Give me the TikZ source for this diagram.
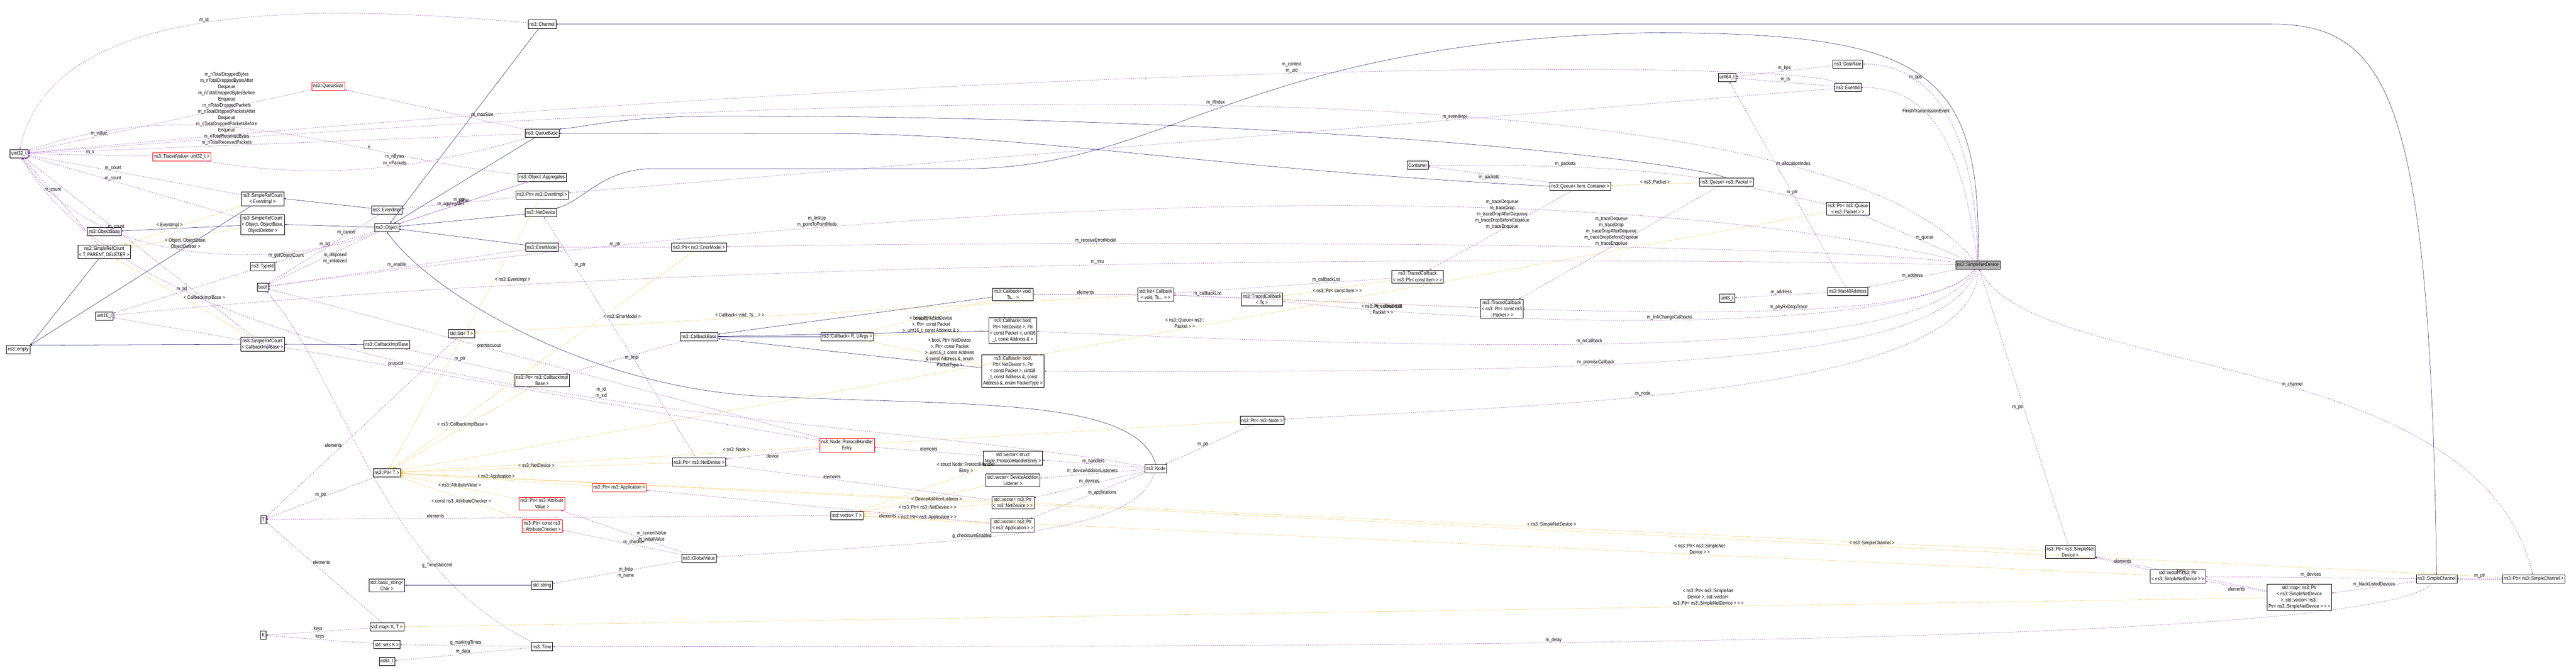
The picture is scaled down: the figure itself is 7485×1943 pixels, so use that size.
\documentclass[tikz,border=0pt]{standalone}
\usepackage{fontspec}
\setmainfont[FakeStretch=0.82]{Liberation Sans}
\definecolor{usecol}{HTML}{9A32CD}
\definecolor{inhcol}{HTML}{191970}
\definecolor{tplcol}{HTML}{FFA500}
\tikzset{
  box/.style={draw, thick, fill=white, align=center, inner sep=4pt, minimum height=24pt, font=\fontsize{15}{18}\selectfont},
  redbox/.style={box, draw=red},
  curbox/.style={box, fill=black!30},
  lbl/.style={font=\fontsize{15}{18}\selectfont, align=center, inner sep=1pt, text=black},
  use/.style={->, dashed, usecol, thick},
  tpl/.style={->, dashed, tplcol, thick},
  inh/.style={->, inhcol, thick}
}
\begin{document}
\begin{tikzpicture}[>=latex, x=1pt, y=-1pt]
\useasboundingbox (0,0) rectangle (7485,1943);
% nodes
\node[box] (ch) at (1575,70) {ns3::Channel};
\node[redbox] (qsz) at (954,250) {ns3::QueueSize};
\node[box] (qb) at (1575,387) {ns3::QueueBase};
\node[box] (u32) at (55,446) {uint32\_t};
\node[redbox] (tv) at (528,455) {ns3::TracedValue< uint32\_t >};
\node[box] (agg) at (1575,515) {ns3::Object::Aggregates};
\node[box] (srcev) at (763,577) {ns3::SimpleRefCount\\< EventImpl >};
\node[box] (ptrev) at (1575,566) {ns3::Ptr< ns3::EventImpl >};
\node[box] (evimpl) at (1124,610) {ns3::EventImpl};
\node[box] (srcobj) at (763,652) {ns3::SimpleRefCount\\< Object, ObjectBase,\\ ObjectDeleter >};
\node[box] (objb) at (303,673) {ns3::ObjectBase};
\node[box] (obj) at (1124,661) {ns3::Object};
\node[box] (nd) at (1572,617) {ns3::NetDevice};
\node[box] (em) at (1575,718) {ns3::ErrorModel};
\node[box] (srct) at (303,731) {ns3::SimpleRefCount\\< T, PARENT, DELETER >};
\node[box] (tid) at (763,774) {ns3::TypeId};
\node[box] (bool) at (763,834) {bool};
\node[box] (u16) at (303,918) {uint16\_t};
\node[box] (listt) at (1341,969) {std::list< T >};
\node[box] (ptrem) at (2031,718) {ns3::Ptr< ns3::ErrorModel >};
\node[box] (cbvoid) at (2943,855) {ns3::Callback< void,\\ Ts... >};
\node[box] (listcb) at (3358,855) {std::list< Callback\\< void, Ts... > >};
\node[box] (tcts) at (3667,869) {ns3::TracedCallback\\< Ts >};
\node[box] (cbb) at (2031,978) {ns3::CallbackBase};
\node[box] (cbr) at (2461,978) {ns3::Callback< R, UArgs >};
\node[box] (cbb4) at (2943,960) {ns3::Callback< bool,\\ Ptr< NetDevice >, Ptr\\< const Packet >, uint16\\\_t, const Address \& >};
\node[box] (cont) at (4119,480) {Container};
\node[box] (dr) at (5369,186) {ns3::DataRate};
\node[box] (u64) at (5018,225) {uint64\_t};
\node[box] (evid) at (5369,254) {ns3::EventId};
\node[box] (qic) at (4592,541) {ns3::Queue< Item, Container >};
\node[box] (qp) at (5016,529) {ns3::Queue< ns3::Packet >};
\node[box] (ptrq) at (5369,606) {ns3::Ptr< ns3::Queue\\< ns3::Packet > >};
\node[box] (tci) at (4119,803) {ns3::TracedCallback\\< ns3::Ptr< const Item > >};
\node[box] (tcp) at (4364,896) {ns3::TracedCallback\\< ns3::Ptr< const ns3\\::Packet > >};
\node[box] (mac) at (5369,846) {ns3::Mac48Address};
\node[box] (u8) at (5018,866) {uint8\_t};
\node[curbox] (snd) at (5747,770) {ns3::SimpleNetDevice};
\node[box] (empty) at (53,1015) {ns3::empty};
\node[box] (srccb) at (763,1000) {ns3::SimpleRefCount\\< CallbackImplBase >};
\node[box] (cbimpl) at (1124,1001) {ns3::CallbackImplBase};
\node[box] (ptrcbi) at (1575,1105) {ns3::Ptr< ns3::CallbackImpl\\Base >};
\node[box] (ptrt) at (1124,1373) {ns3::Ptr< T >};
\node[redbox] (ptrapp) at (1799,1416) {ns3::Ptr< ns3::Application >};
\node[redbox] (ptrav) at (1575,1463) {ns3::Ptr< ns3::Attribute\\Value >};
\node[redbox] (ptrac) at (1575,1528) {ns3::Ptr< const ns3\\::AttributeChecker >};
\node[box] (T) at (765,1509) {T};
\node[box] (bstr) at (1124,1700) {std::basic\_string<\\ Char >};
\node[box] (str) at (1575,1700) {std::string};
\node[box] (mapkt) at (1124,1821) {std::map< K, T >};
\node[box] (K) at (765,1845) {K};
\node[box] (setk) at (1124,1872) {std::set< K >};
\node[box] (time) at (1575,1878) {ns3::Time};
\node[box] (i64) at (1124,1921) {int64\_t};
\node[box] (cbb5) at (2943,1078) {ns3::Callback< bool,\\ Ptr< NetDevice >, Ptr\\< const Packet >, uint16\\\_t, const Address \&, const\\ Address \&, enum PacketType >};
\node[box] (ptrnode) at (3667,1221) {ns3::Ptr< ns3::Node >};
\node[redbox] (phe) at (2461,1293) {ns3::Node::ProtocolHandler\\Entry};
\node[box] (ptrnd) at (2031,1342) {ns3::Ptr< ns3::NetDevice >};
\node[box] (vphe) at (2943,1330) {std::vector< struct\\ Node::ProtocolHandlerEntry >};
\node[box] (node) at (3358,1361) {ns3::Node};
\node[box] (vdal) at (2943,1395) {std::vector< DeviceAddition\\Listener >};
\node[box] (vnd) at (2943,1460) {std::vector< ns3::Ptr\\< ns3::NetDevice > >};
\node[box] (vect) at (2461,1497) {std::vector< T >};
\node[box] (vapp) at (2943,1526) {std::vector< ns3::Ptr\\< ns3::Application > >};
\node[box] (gv) at (2031,1621) {ns3::GlobalValue};
\node[box] (ptrsnd) at (6015,1603) {ns3::Ptr< ns3::SimpleNet\\Device >};
\node[box] (vsnd) at (6328,1674) {std::vector< ns3::Ptr\\< ns3::SimpleNetDevice > >};
\node[box] (mapsnd) at (6681,1735) {std::map< ns3::Ptr\\< ns3::SimpleNetDevice\\ >, std::vector< ns3::\\Ptr< ns3::SimpleNetDevice > > >};
\node[box] (sch) at (7080,1681) {ns3::SimpleChannel};
\node[box] (ptrsch) at (7362,1681) {ns3::Ptr< ns3::SimpleChannel >};
% inheritance
\draw[inh] (sch.north) .. controls (7060,300) and (6950,70) .. (6600,70) -- (ch.east);
\draw[inh] (snd.north) .. controls (5760,200) and (5600,95) .. (4800,95) .. controls (3600,120) and (3400,490) .. (2800,490) -- (1900,490) .. controls (1750,490) and (1700,580) .. (nd.north east);
\draw[inh] (qp.north) .. controls (4900,470) and (3800,337) .. (2100,337) .. controls (1800,337) and (1700,370) .. (qb.north east);
\draw[inh] (qic.west) .. controls (3500,490) and (3000,388) .. (2400,388) -- (qb.east);
\foreach \src in {ch,qb,nd,em} \draw[inh] (\src) -- (obj);
\draw[inh] (node.north) .. controls (3300,1150) and (2800,1180) .. (2200,1150) .. controls (1700,1120) and (1250,850) .. (obj.south);
\draw[inh] (evimpl) -- (srcev.east);
\draw[inh] (obj) -- (srcobj.east);
\draw[inh] (srcobj) -- (objb);
\foreach \src in {srcev,srct,srccb} \draw[inh] (\src) -- (empty.north east);
\draw[inh] (cbimpl) -- (srccb);
\foreach \src in {cbvoid,cbb4,cbr,cbb5} \draw[inh] (\src) -- (cbb);
\draw[inh] (str) -- (bstr);
% template instances
\draw[tpl] (srcev) -- node[lbl, midway, left]{< EventImpl >} (srct);
\draw[tpl] (srcobj) -- node[lbl, midway, below]{< Object, ObjectBase,\\ ObjectDeleter >} (srct);
\draw[tpl] (srccb) -- node[lbl, midway, right]{< CallbackImplBase >} (srct);
\draw[tpl] (qp) -- node[lbl, midway, above]{< ns3::Packet >} (qic);
\draw[tpl] (ptrq) -- node[lbl, pos=.45, above]{< ns3::Queue< ns3::\\Packet > >} (ptrt);
\draw[tpl] (ptrev) -- node[lbl, pos=.3, right]{< ns3::EventImpl >} (ptrt);
\draw[tpl] (ptrem) -- node[lbl, pos=.3, right]{< ns3::ErrorModel >} (ptrt);
\draw[tpl] (ptrcbi) -- node[lbl, midway, above]{< ns3::CallbackImplBase >} (ptrt);
\draw[tpl] (ptrnd) -- node[lbl, midway, above]{< ns3::NetDevice >} (ptrt);
\draw[tpl] (ptrapp) -- node[lbl, midway, above]{< ns3::Application >} (ptrt);
\draw[tpl] (ptrav) -- node[lbl, midway, above]{< ns3::AttributeValue >} (ptrt);
\draw[tpl] (ptrac) -- node[lbl, midway, below]{< const ns3::AttributeChecker >} (ptrt);
\draw[tpl] (ptrnode) -- node[lbl, pos=.6, above]{< ns3::Node >} (ptrt);
\draw[tpl] (ptrsnd) -- node[lbl, pos=.3, above]{< ns3::SimpleNetDevice >} (ptrt);
\draw[tpl] (ptrsch) -- node[lbl, pos=.3, above]{< ns3::SimpleChannel >} (ptrt);
\draw[tpl] (listcb) -- node[lbl, pos=.6, above]{< Callback< void, Ts... > >} (listt);
\draw[tpl] (cbvoid) -- node[lbl, midway, below]{< void, Ts... >} (cbr);
\draw[tpl] (cbb4) -- node[lbl, midway, above]{< bool, Ptr< NetDevice\\ >, Ptr< const Packet\\ >, uint16\_t, const Address \& >} (cbr);
\draw[tpl] (cbb5) -- node[lbl, midway, right]{< bool, Ptr< NetDevice\\ >, Ptr< const Packet\\ >, uint16\_t, const Address\\ \& const Address \&, enum\\ PacketType >} (cbr);
\draw[tpl] (tci) -- node[lbl, midway, below]{< ns3::Ptr< const Item > >} (tcts);
\draw[tpl] (tcp) -- node[lbl, midway, below]{< ns3::Ptr< const ns3\\::Packet > >} (tcts);
\draw[tpl] (vphe) -- node[lbl, pos=.2, above]{< struct Node::ProtocolHandler\\Entry >} (vect);
\draw[tpl] (vdal) -- node[lbl, pos=.4, below]{< DeviceAdditionListener >} (vect);
\draw[tpl] (vnd) -- node[lbl, midway, above]{< ns3::Ptr< ns3::NetDevice > >} (vect);
\draw[tpl] (vapp) -- node[lbl, midway, above]{< ns3::Ptr< ns3::Application > >} (vect);
\draw[tpl] (vsnd) -- node[lbl, pos=.35, above]{< ns3::Ptr< ns3::SimpleNet\\Device > >} (vect);
\draw[tpl] (mapsnd) -- node[lbl, pos=.3, above]{< ns3::Ptr< ns3::SimpleNet\\Device >, std::vector<\\ ns3::Ptr< ns3::SimpleNetDevice > > >} (mapkt);
% usage
\draw[use] (ch) .. controls (900,10) and (150,0) .. node[lbl, above]{m\_id} (u32);
\draw[use] (evid) .. controls (5200,170) and (3000,170) .. node[lbl, above, pos=.5]{m\_context\\m\_uid} (u32);
\draw[use] (snd) .. controls (5300,220) and (3000,220) .. node[lbl, above, pos=.55]{m\_ifIndex} (u32);
\draw[use] (qsz) -- node[lbl, pos=.75, above]{m\_value} (u32);
\draw[use] (qb) -- node[lbl, pos=.6, above]{m\_nTotalDroppedBytes\\m\_nTotalDroppedBytesAfter\\Dequeue\\m\_nTotalDroppedBytesBefore\\Enqueue\\m\_nTotalDroppedPackets\\m\_nTotalDroppedPacketsAfter\\Dequeue\\m\_nTotalDroppedPacketsBefore\\Enqueue\\m\_nTotalReceivedBytes\\m\_nTotalReceivedPackets} (u32);
\draw[use] (qb) -- node[lbl, pos=.3, above right]{m\_maxSize} (qsz);
\draw[use] (qb) .. controls (1200,500) and (900,520) .. node[lbl, above, pos=.4]{m\_nBytes\\m\_nPackets} (tv);
\draw[use] (tv) -- node[lbl, above]{m\_v} (u32);
\draw[use] (agg) .. controls (1000,450) and (600,260) .. node[lbl, pos=.3, above]{n} (u32);
\foreach \src in {srcev,srcobj,srct,srccb}
  \draw[use] (\src) -- node[lbl, pos=.6, above]{m\_count} (u32);
\draw[use] (obj) .. controls (900,760) and (300,820) .. node[lbl, pos=.3, below]{m\_getObjectCount} (u32);
\draw[use] (obj) -- node[lbl, pos=.4, above]{m\_aggregates} (agg);
\draw[use] (agg) -- node[lbl, midway, above]{buffer} (obj);
\draw[use] (ptrev) -- node[lbl, midway, above]{m\_ptr} (evimpl);
\draw[use] (evimpl) -- node[lbl, pos=.3, above]{m\_cancel} (bool);
\draw[use] (obj) -- node[lbl, midway, above]{m\_tid} (tid);
\draw[use] (obj) -- node[lbl, midway, right]{m\_disposed\\m\_initialized} (bool);
\draw[use] (em) -- node[lbl, midway, above]{m\_enable} (bool);
\draw[use] (tid) -- node[lbl, midway, above]{m\_tid} (u16);
\draw[use] (ptrem) -- node[lbl, midway, above]{m\_ptr} (em);
\draw[use] (snd) .. controls (5200,700) and (3000,700) .. node[lbl, pos=.7, above]{m\_receiveErrorModel} (ptrem);
\draw[use] (snd) .. controls (5700,400) and (5600,254) .. node[lbl, pos=.6, above]{FinishTransmissionEvent} (evid);
\draw[use] (snd) .. controls (5740,350) and (5600,186) .. node[lbl, pos=.7, above]{m\_bps} (dr);
\draw[use] (dr) -- node[lbl, midway, above]{m\_bps} (u64);
\draw[use] (evid) -- node[lbl, midway, above]{m\_ts} (u64);
\draw[use] (evid) -- node[lbl, pos=.3, above]{m\_eventImpl} (ptrev);
\draw[use] (snd) .. controls (4500,480) and (2500,600) .. node[lbl, pos=.7, above]{m\_linkUp\\m\_pointToPointMode} (bool);
\draw[use] (snd) .. controls (4500,745) and (2000,745) .. node[lbl, pos=.5, above]{m\_mtu} (u16);
\draw[use] (ptrq) -- node[lbl, midway, above right]{m\_ptr} (qp);
\draw[use] (snd) -- node[lbl, midway, right]{m\_queue} (ptrq);
\draw[use] (qp) .. controls (4700,480) and (4400,480) .. node[lbl, midway, above]{m\_packets} (cont);
\draw[use] (qic) -- node[lbl, midway, below]{m\_packets} (cont);
\draw[use] (qic) -- node[lbl, pos=.3, left]{m\_traceDequeue\\m\_traceDrop\\m\_traceDropAfterDequeue\\m\_traceDropBeforeEnqueue\\m\_traceEnqueue} (tci);
\draw[use] (qp) -- node[lbl, pos=.4, left]{m\_traceDequeue\\m\_traceDrop\\m\_traceDropAfterDequeue\\m\_traceDropBeforeEnqueue\\m\_traceEnqueue} (tcp);
\draw[use] (mac) -- node[lbl, pos=.6, right]{m\_allocationIndex} (u64);
\draw[use] (mac) -- node[lbl, midway, above]{m\_address} (u8);
\draw[use] (snd) -- node[lbl, midway, above]{m\_address} (mac);
\draw[use] (snd) .. controls (5650,900) and (5200,920) .. node[lbl, pos=.6, above]{m\_phyRxDropTrace} (tcp);
\draw[use] (snd) .. controls (5600,960) and (4500,960) .. node[lbl, pos=.55, above]{m\_linkChangeCallbacks} (tcts);
\draw[use] (tcts) -- node[lbl, midway, above]{m\_callbackList} (listcb);
\draw[use] (tci) -- node[lbl, pos=.3, above]{m\_callbackList} (listcb);
\draw[use] (tcp) -- node[lbl, pos=.3, below]{m\_callbackList} (listcb);
\draw[use] (listcb) -- node[lbl, midway, above]{elements} (cbvoid);
\draw[use] (snd) .. controls (5600,1030) and (4600,1030) .. node[lbl, pos=.6, above]{m\_rxCallback} (cbb4);
\draw[use] (snd) .. controls (5650,1080) and (4600,1080) .. node[lbl, pos=.6, above]{m\_promiscCallback} (cbb5);
\draw[use] (cbb) -- node[lbl, midway, right]{m\_impl} (ptrcbi);
\draw[use] (ptrcbi) -- node[lbl, midway, above]{m\_ptr} (cbimpl);
\draw[use] (snd) .. controls (5750,1150) and (4500,1175) .. node[lbl, pos=.6, above]{m\_node} (ptrnode);
\draw[use] (ptrnode) -- node[lbl, midway, left]{m\_ptr} (node);
\draw[use] (node) .. controls (2500,1200) and (500,1200) .. node[lbl, pos=.45, above]{m\_id\\m\_sid} (u32);
\draw[use] (node) -- node[lbl, midway, above]{m\_handlers} (vphe);
\draw[use] (node) -- node[lbl, midway, above]{m\_deviceAdditionListeners} (vdal);
\draw[use] (node) -- node[lbl, midway, above]{m\_devices} (vnd);
\draw[use] (node) -- node[lbl, midway, above right]{m\_applications} (vapp);
\draw[use] (node) .. controls (3300,1560) and (2800,1570) .. node[lbl, pos=.6, above]{g\_checksumEnabled} (gv);
\draw[use] (vphe) -- node[lbl, midway, above]{elements} (phe);
\draw[use] (vnd) -- node[lbl, pos=.6, above]{elements} (ptrnd);
\draw[use] (vapp) -- node[lbl, pos=.3, below]{elements} (ptrapp);
\draw[use] (phe) -- node[lbl, midway, below]{device} (ptrnd);
\draw[use] (phe) -- node[lbl, pos=.6, above]{protocol} (u16);
\draw[use] (phe) -- node[lbl, pos=.6, above]{promiscuous} (bool);
\draw[use] (ptrnd) -- node[lbl, pos=.8, right]{m\_ptr} (nd);
\draw[use] (vect) -- node[lbl, pos=.7, above]{elements} (T);
\draw[use] (listt) -- node[lbl, pos=.6, left]{elements} (T);
\draw[use] (ptrt) -- node[lbl, midway, above]{m\_ptr} (T);
\draw[use] (mapkt) -- node[lbl, pos=.6, right]{elements} (T);
\draw[use] (mapkt) -- node[lbl, midway, above]{keys} (K);
\draw[use] (setk) -- node[lbl, midway, above]{keys} (K);
\draw[use] (time) -- node[lbl, midway, above]{g\_markingTimes} (setk);
\draw[use] (time) -- node[lbl, midway, above]{m\_data} (i64);
\draw[use] (time) .. controls (1100,1650) and (1000,1100) .. node[lbl, pos=.25, above]{g\_TimeStaticInit} (bool);
\draw[use] (gv) -- node[lbl, midway, right]{m\_help\\m\_name} (str);
\draw[use] (gv) -- node[lbl, pos=.4, right]{m\_currentValue\\m\_initialValue} (ptrav);
\draw[use] (gv) -- node[lbl, pos=.4, above]{m\_checker} (ptrac);
\draw[use] (sch) .. controls (6900,1880) and (4000,1878) .. node[lbl, pos=.6, above]{m\_delay} (time);
\draw[use] (snd) .. controls (5900,1100) and (7200,1000) .. node[lbl, pos=.55, above]{m\_channel} (ptrsch);
\draw[use] (ptrsch) -- node[lbl, midway, above]{m\_ptr} (sch);
\draw[use] (sch) -- node[lbl, midway, above]{m\_devices} (vsnd);
\draw[use] (sch) -- node[lbl, midway, above]{m\_blackListedDevices} (mapsnd);
\draw[use] (vsnd) -- node[lbl, midway, above]{elements} (ptrsnd);
\draw[use] (mapsnd) -- node[lbl, midway, above]{keys} (ptrsnd);
\draw[use] (mapsnd) -- node[lbl, midway, below]{elements} (vsnd);
\draw[use] (ptrsnd) -- node[lbl, midway, left]{m\_ptr} (snd);
\end{tikzpicture}
\end{document}
